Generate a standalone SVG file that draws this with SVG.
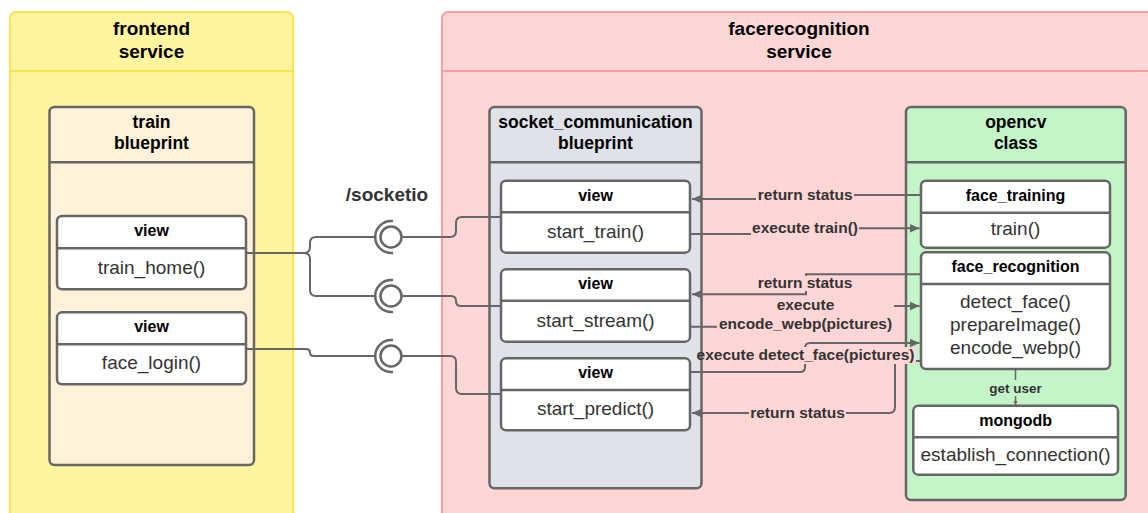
<svg xmlns="http://www.w3.org/2000/svg" width="1148" height="513" viewBox="0 0 1148 513">
<defs>
<style>
text{font-family:"Liberation Sans",Arial,sans-serif}
.title{font-size:19px;font-weight:bold;fill:#000;text-anchor:middle}
.bp{font-size:17.5px;font-weight:bold;fill:#000;text-anchor:middle}
.hdr{font-size:16px;font-weight:bold;fill:#000;text-anchor:middle}
.m{font-size:19px;fill:#333;text-anchor:middle}
.lbl{font-size:15.5px;font-weight:bold;fill:#333;text-anchor:middle}
.box{stroke:#666;stroke-width:2.5}
.white{fill:#fff}
.div{stroke:#666;stroke-width:2.5}
.c{fill:none;stroke:#666;stroke-width:2}
.sock{fill:none;stroke:#666;stroke-width:2.5}
.pinkbg{fill:#FFD6D6}
.greenbg{fill:#C3F5C8}
</style>
<marker id="arr" markerUnits="userSpaceOnUse" markerWidth="11" markerHeight="10" refX="10" refY="4.5" orient="auto">
<path d="M0,0 L10,4.5 L0,9 z" fill="#666"/>
</marker>
<marker id="arrs" markerUnits="userSpaceOnUse" markerWidth="6" markerHeight="6" refX="4" refY="2" orient="auto">
<path d="M0,0 L4,2 L0,4 z" fill="#666"/>
</marker>
</defs>

<g id="frontend-service">
<rect x="10" y="12" width="283" height="520" rx="6" fill="#FFF59E" stroke="#FFE14F" stroke-width="2"/>
<line x1="10" y1="71" x2="293" y2="71" stroke="#FFE14F" stroke-width="2"/>
<text class="title" x="151.5" y="35">frontend</text>
<text class="title" x="151.5" y="58">service</text>
</g>

<g id="facerecognition-service">
<rect x="442" y="12" width="720" height="520" rx="6" fill="#FFD6D6" stroke="#FF9C9C" stroke-width="2"/>
<line x1="442" y1="71" x2="1162" y2="71" stroke="#FF9C9C" stroke-width="2"/>
<text class="title" x="799" y="35">facerecognition</text>
<text class="title" x="799" y="58">service</text>
</g>

<g id="train-blueprint">
<rect class="box" x="49.5" y="107" width="204.5" height="358" rx="5" fill="#FFF2D9"/>
<line class="div" x1="49.5" y1="162.3" x2="254" y2="162.3"/>
<text class="bp" x="151.5" y="127.5">train</text>
<text class="bp" x="151.5" y="149">blueprint</text>
</g>

<g id="view-train-home">
<rect class="box white" x="57" y="216" width="189" height="73.3" rx="5"/>
<line class="div" x1="57" y1="248.3" x2="246" y2="248.3"/>
<text class="hdr" x="151.5" y="236.3">view</text>
<text class="m" x="151.5" y="274.3">train_home()</text>
</g>

<g id="view-face-login">
<rect class="box white" x="57" y="312.3" width="189" height="72" rx="5"/>
<line class="div" x1="57" y1="344.3" x2="246" y2="344.3"/>
<text class="hdr" x="151.5" y="332.3">view</text>
<text class="m" x="151.5" y="369">face_login()</text>
</g>

<g id="socket-communication-blueprint">
<rect class="box" x="489.5" y="107" width="212" height="381.3" rx="5" fill="#DFE2E8"/>
<line class="div" x1="489.5" y1="162.3" x2="701.5" y2="162.3"/>
<text class="bp" x="595.5" y="127.5">socket_communication</text>
<text class="bp" x="595.5" y="149">blueprint</text>
</g>

<g id="view-start-train">
<rect class="box white" x="501" y="180.7" width="189" height="72" rx="5"/>
<line class="div" x1="501" y1="212.3" x2="690" y2="212.3"/>
<text class="hdr" x="595.5" y="200.5">view</text>
<text class="m" x="595.5" y="237.8">start_train()</text>
</g>

<g id="view-start-stream">
<rect class="box white" x="501" y="269.3" width="189" height="72.4" rx="5"/>
<line class="div" x1="501" y1="300.7" x2="690" y2="300.7"/>
<text class="hdr" x="595.5" y="289">view</text>
<text class="m" x="595.5" y="326.5">start_stream()</text>
</g>

<g id="view-start-predict">
<rect class="box white" x="501" y="358.3" width="189" height="72" rx="5"/>
<line class="div" x1="501" y1="390" x2="690" y2="390"/>
<text class="hdr" x="595.5" y="378.2">view</text>
<text class="m" x="595.5" y="415.3">start_predict()</text>
</g>

<g id="opencv-class">
<rect class="box" x="906" y="107" width="219.7" height="393" rx="5" fill="#C3F5C8"/>
<line class="div" x1="906" y1="162.3" x2="1125.7" y2="162.3"/>
<text class="bp" x="1015.8" y="127.5">opencv</text>
<text class="bp" x="1015.8" y="149">class</text>
</g>

<g id="face-training">
<rect class="box white" x="921" y="180.7" width="189" height="67" rx="5"/>
<line class="div" x1="921" y1="212.7" x2="1110" y2="212.7"/>
<text class="hdr" x="1015.5" y="200.7">face_training</text>
<text class="m" x="1015.5" y="235.2">train()</text>
</g>

<g id="face-recognition">
<rect class="box white" x="921" y="252.3" width="189" height="116.7" rx="5"/>
<line class="div" x1="921" y1="284" x2="1110" y2="284"/>
<text class="hdr" x="1015.5" y="272">face_recognition</text>
<text class="m" x="1015.5" y="307.5">detect_face()</text>
<text class="m" x="1015.5" y="330.8">prepareImage()</text>
<text class="m" x="1015.5" y="354">encode_webp()</text>
</g>

<g id="mongodb">
<rect class="box white" x="913.3" y="405.7" width="204.7" height="69" rx="5"/>
<line class="div" x1="913.3" y1="437.3" x2="1118" y2="437.3"/>
<text class="hdr" x="1015.6" y="425.5">mongodb</text>
<text class="m" x="1015.6" y="460.8">establish_connection()</text>
</g>

<g id="socketio-interfaces">
<text class="title" x="387" y="201" fill="#333" style="fill:#333">/socketio</text>
<circle class="sock" cx="391" cy="237" r="10.5"/>
<path class="sock" d="M393,221.1 A16,16 0 1,0 393,252.9"/>
<circle class="sock" cx="391" cy="296" r="10.5"/>
<path class="sock" d="M393,280.1 A16,16 0 1,0 393,311.9"/>
<circle class="sock" cx="391" cy="356" r="10.5"/>
<path class="sock" d="M393,340.1 A16,16 0 1,0 393,371.9"/>
</g>

<g id="connectors">
<!-- frontend to sockets -->
<path class="c" d="M246,253 H304 Q310,253 310,247 V243 Q310,237 316,237 H375"/>
<path class="c" d="M246,253 H304 Q310,253 310,259 V290 Q310,296 316,296 H375"/>
<path class="c" d="M246,349 H306 Q310,349 310,352.5 Q310,356 314,356 H375"/>
<!-- sockets to socket_communication views -->
<path class="c" d="M401.5,237 H450 Q456,237 456,231 V223 Q456,217 462,217 H501"/>
<path class="c" d="M401.5,296 H451 Q456,296 456,301 Q456,306 461,306 H501"/>
<path class="c" d="M401.5,356 H450 Q456,356 456,362 V388 Q456,394 462,394 H501"/>
<!-- views <-> opencv -->
<path class="c" d="M921,195 H806 V199 H692" marker-end="url(#arr)"/>
<path class="c" d="M690,234 H806 V228.3 H919.5" marker-end="url(#arr)"/>
<path class="c" d="M921,274.3 H806 V294.3 H692" marker-end="url(#arr)"/>
<path class="c" d="M690,326.7 H806 V306 H919.5" marker-end="url(#arr)"/>
<path class="c" d="M690,372 H800 Q805,372 805,367 V348 Q805,343 810,343 H919.5" marker-end="url(#arr)"/>
<path class="c" d="M921,361 H895 V407 Q895,413 889,413 H692" marker-end="url(#arr)"/>
<path d="M1015.5,369 V405" fill="none" stroke="#666" stroke-width="1.5" marker-end="url(#arrs)"/>
<!-- labels -->
<rect class="pinkbg" x="756" y="187" width="98" height="16"/>
<text class="lbl" x="805.2" y="200">return status</text>
<rect class="pinkbg" x="751" y="221" width="108" height="16"/>
<text class="lbl" x="805" y="233.3">execute train()</text>
<rect class="pinkbg" x="757" y="276" width="96" height="15"/>
<text class="lbl" x="805" y="287.7">return status</text>
<rect class="pinkbg" x="717" y="297" width="177" height="36"/>
<text class="lbl" x="805.5" y="310">execute</text>
<text class="lbl" x="805.5" y="328.8">encode_webp(pictures)</text>
<rect class="pinkbg" x="703.5" y="347" width="212.5" height="17"/>
<text class="lbl" x="805.5" y="359.5">execute detect_face(pictures)</text>
<rect class="pinkbg" x="749" y="405" width="97" height="16"/>
<text class="lbl" x="797.5" y="417.7">return status</text>
<rect class="greenbg" x="987" y="380" width="57" height="16"/>
<text class="lbl" x="1015.5" y="392.5" style="font-size:13.5px">get user</text>
</g>
</svg>
